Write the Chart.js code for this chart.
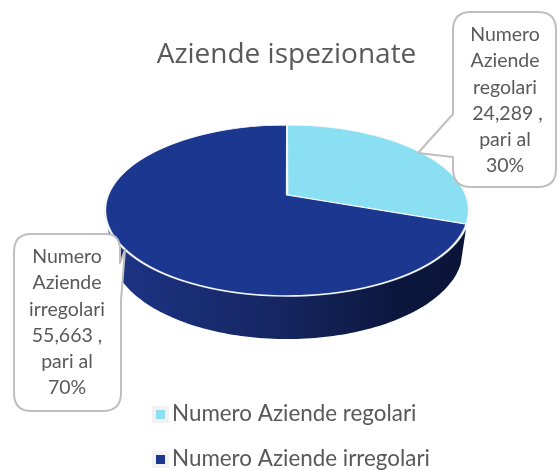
<!DOCTYPE html>
<html>
<head>
<meta charset="utf-8">
<title>Aziende ispezionate</title>
<script src="https://cdn.jsdelivr.net/npm/chart.js@4"></script>
<style>
  html, body { margin: 0; padding: 0; background: #fff; }
  canvas { display: block; }
</style>
</head>
<body>
<canvas id="grafico" width="557" height="470"></canvas>
<script>
const titolo = 'Aziende ispezionate';
const categorie = ['Numero Aziende regolari', 'Numero Aziende irregolari'];
const valori = [24289, 55663];
const percentuali = [30, 70];
const etichetteRegolari = ['Numero', 'Aziende', 'regolari', ' 24,289 ,', 'pari al', percentuali[0] + '%'];
const etichetteIrregolari = ['Numero', 'Aziende', 'irregolari', '55,663 ,', 'pari al', percentuali[1] + '%'];
const colori = ['#8ae0f2', '#1c3790'];

// vista in prospettiva del disco: faccia sopra e base del cilindro
const prosp = -0.1813;
const faccia = { cx: 287, y0: 195, rx: 179, s: 82.7 };
const base = { cx: 287, y0: 233.9, rx: 173, s: 86.1 };

function proietta(vista, angolo) {
    const u = Math.cos(angolo), v = Math.sin(angolo);
    const w = 1 + prosp * v;
    return [vista.cx + vista.rx * u / w, vista.y0 + vista.s * v / w];
}

function disegnaParete(ctx, arco) {
    // solo la parte davanti della fetta irregolare, fino al bordo sinistro
    const inizio = arco.startAngle;
    const fine = Math.min(arco.endAngle, Math.PI + Math.asin(prosp) + 0.02);
    const grad = ctx.createLinearGradient(112, 0, 464, 0);
    grad.addColorStop(0, '#1e3486');
    grad.addColorStop(0.5, '#14255f');
    grad.addColorStop(0.8, '#0c173e');
    grad.addColorStop(1, '#0b1538');
    ctx.beginPath();
    for (let i = 0; i <= 120; i++) {
        const p = proietta(faccia, inizio + (fine - inizio) * i / 120);
        ctx.lineTo(p[0], p[1]);
    }
    for (let i = 120; i >= 0; i--) {
        const p = proietta(base, inizio + (fine - inizio) * i / 120);
        ctx.lineTo(p[0], p[1]);
    }
    ctx.closePath();
    ctx.fillStyle = grad;
    ctx.fill();
}

// ogni riga di pixel usa la sua scala, cosi il canvas fa la prospettiva
function disegnaFaccia(ctx, archi) {
    const r = archi[0].outerRadius, ax = archi[0].x, ay = archi[0].y;
    for (let y = 120; y < 302; y++) {
        const dy = y + 0.5 - faccia.y0;
        const v = dy / (faccia.s - prosp * dy);
        const w = 1 + prosp * v;
        const a = faccia.rx / (w * r);
        const d = faccia.s / (w * w * r);
        ctx.save();
        ctx.beginPath();
        ctx.rect(0, y, 557, 1);
        ctx.clip();
        ctx.setTransform(a, 0, 0, d, faccia.cx - a * ax, y + 0.5 - d * (ay + v * r));
        archi.forEach(arco => arco.draw(ctx));
        ctx.restore();
    }
}

function testoCentrato(ctx, righe, x, yIniziale, passo) {
    ctx.font = '19.5px Lato';
    ctx.fillStyle = '#595959';
    ctx.textAlign = 'center';
    ctx.textBaseline = 'middle';
    righe.forEach((riga, i) => ctx.fillText(riga, x, yIniziale + i * passo));
}

function disegnaFumetti(ctx) {
    ctx.fillStyle = '#fff';
    ctx.strokeStyle = '#bfbfbf';
    ctx.lineWidth = 2;
    ctx.lineJoin = 'round';

    // fumetto a destra
    ctx.beginPath();
    ctx.moveTo(471, 12);
    ctx.lineTo(538, 12);
    ctx.quadraticCurveTo(556, 12, 556, 30);
    ctx.lineTo(556, 169);
    ctx.quadraticCurveTo(556, 187, 538, 187);
    ctx.lineTo(471, 187);
    ctx.quadraticCurveTo(453, 187, 453, 169);
    ctx.lineTo(453, 157);
    ctx.lineTo(418, 153);
    ctx.lineTo(453, 114);
    ctx.lineTo(453, 30);
    ctx.quadraticCurveTo(453, 12, 471, 12);
    ctx.closePath();
    ctx.fill();
    ctx.stroke();

    // fumetto a sinistra
    ctx.fillStyle = '#fff';
    ctx.beginPath();
    ctx.moveTo(31, 234);
    ctx.lineTo(106, 234);
    ctx.quadraticCurveTo(119, 234, 120, 248);
    ctx.lineTo(120, 263);
    ctx.lineTo(125, 250);
    ctx.lineTo(121, 300);
    ctx.lineTo(121, 393);
    ctx.quadraticCurveTo(121, 411, 103, 411);
    ctx.lineTo(31, 411);
    ctx.quadraticCurveTo(14, 411, 14, 393);
    ctx.lineTo(14, 252);
    ctx.quadraticCurveTo(14, 234, 31, 234);
    ctx.closePath();
    ctx.fill();
    ctx.stroke();

    testoCentrato(ctx, etichetteRegolari, 505, 35, 26.2);
    testoCentrato(ctx, etichetteIrregolari, 67, 257, 26.2);
}

function disegnaLegenda(ctx) {
    const righeY = [414, 459];
    categorie.forEach((nome, i) => {
        ctx.fillStyle = '#f2f2f2';
        ctx.fillRect(152, righeY[i] - 8, 17, 17);
        ctx.fillStyle = colori[i];
        ctx.fillRect(156, righeY[i] - 4, 9, 9);
        ctx.font = '22.4px Lato';
        ctx.fillStyle = '#595959';
        ctx.textAlign = 'left';
        ctx.textBaseline = 'middle';
        ctx.fillText(nome, 172, righeY[i]);
    });
}

const tortaProspettiva = {
    id: 'tortaProspettiva',
    beforeDatasetsDraw(chart) {
        const archi = chart.getDatasetMeta(0).data;
        disegnaParete(chart.ctx, archi[1]);
        disegnaFaccia(chart.ctx, archi);
        return false;
    },
    afterDraw(chart) {
        disegnaFumetti(chart.ctx);
        disegnaLegenda(chart.ctx);
    }
};

new Chart(document.getElementById('grafico').getContext('2d'), {
    type: 'pie',
    data: {
        labels: categorie,
        datasets: [{
            data: valori,
            backgroundColor: colori,
            borderColor: '#f4f6f8',
            borderWidth: 2.5
        }]
    },
    options: {
        responsive: false,
        animation: false,
        layout: { padding: { left: 16 } },
        plugins: {
            legend: { display: false },
            tooltip: { enabled: false },
            title: {
                display: true,
                text: titolo,
                fullSize: false,
                color: '#595959',
                font: { family: 'Open Sans', size: 28, weight: 'normal' },
                padding: { top: 38, bottom: 10 }
            }
        }
    },
    plugins: [tortaProspettiva]
});
</script>
</body>
</html>
